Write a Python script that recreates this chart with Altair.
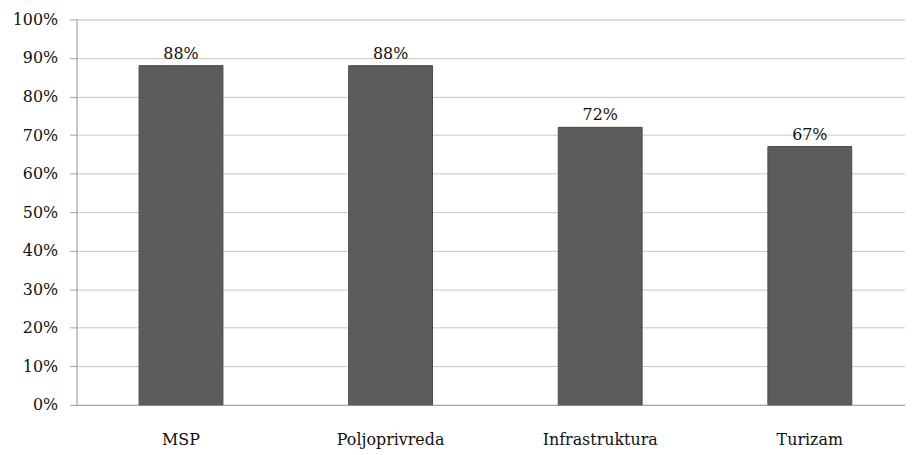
import altair as alt
import pandas as pd

categories = ["MSP", "Poljoprivreda", "Infrastruktura", "Turizam"]
values = [0.88, 0.88, 0.72, 0.67]
labels = ["88%", "88%", "72%", "67%"]

df = pd.DataFrame({"cat": categories, "val": values, "lab": labels})

FONT = "DejaVu Serif"
FS = 16

base = alt.Chart(df).encode(
    x=alt.X("cat:N", sort=categories,
            scale=alt.Scale(paddingInner=0.6, paddingOuter=0.2763, align=0.54),
            axis=alt.Axis(title=None, labelAngle=0, labelFontSize=FS, labelFont=FONT,
                          labelColor="#111", labelPadding=27, ticks=False,
                          domainColor="#a0a0a0", grid=False)),
    y=alt.Y("val:Q", scale=alt.Scale(domain=[0, 1], nice=False),
            axis=alt.Axis(title=None, format="0%", values=[i / 10 for i in range(11)],
                          labelFontSize=FS, labelFont=FONT, labelColor="#111",
                          tickSize=7, tickColor="#a0a0a0", labelPadding=12,
                          domainColor="#a0a0a0", gridColor="#c8c8c8")),
)

bars = base.mark_bar(color="#5c5c5c", stroke="#4a4a4a", strokeWidth=1)
text = base.mark_text(dy=-12, fontSize=FS, font=FONT, color="#111").encode(text="lab:N")

chart = (bars + text).properties(
    width=834, height=388,
    autosize=alt.AutoSizeParams(type="none"),
    padding={"left": 69, "top": 10, "right": 0, "bottom": 48},
).configure_view(stroke=None).configure(background="white")

chart.save("out.html", embed_options={"renderer": "svg", "actions": False})
